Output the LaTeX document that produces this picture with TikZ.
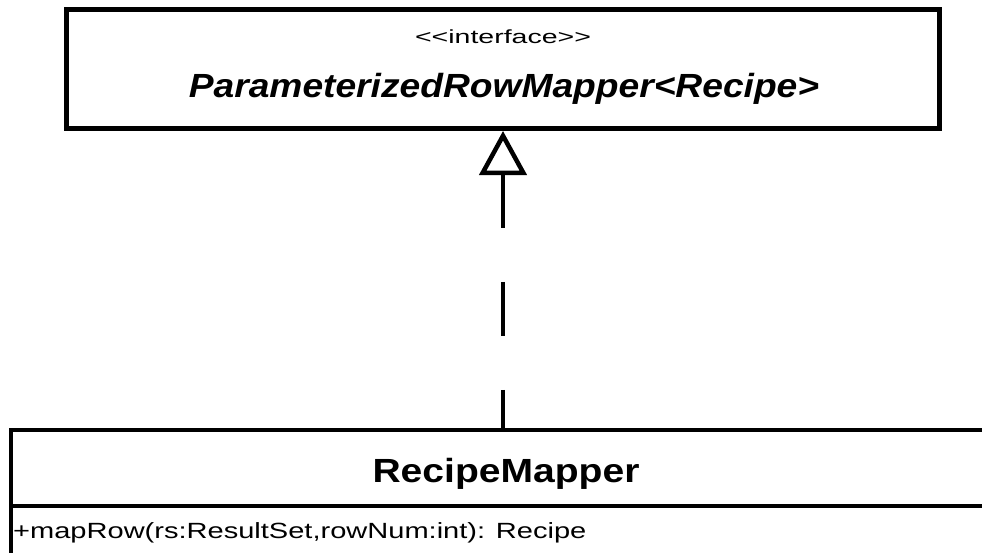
\documentclass[tikz,border=0pt]{standalone}
\usepackage{fontspec}
\setmainfont{Liberation Sans}
\usetikzlibrary{arrows.meta}

\tikzset{
  umlbox/.style={draw=black, fill=white, rectangle, inner sep=0pt},
  realize/.style={draw=black, line width=4.5pt, dash pattern=on 54pt off 54pt,
                  {Triangle[open, length=44pt, width=47pt, line width=4.5pt]}-},
  umltext/.style={anchor=base, inner sep=0pt, text=black}
}

\begin{document}
\begin{tikzpicture}[x=1pt, y=-1pt]
  \useasboundingbox (0,0) rectangle (982,552);
  \fill[white] (0,0) rectangle (982,552);
  \clip (0,0) rectangle (982,552);

  % interface box
  \node[umlbox, line width=5pt, minimum width=873pt, minimum height=119pt]
    (iface) at (503,69) {};
  \node[umltext, font=\fontsize{19}{22}\selectfont] (stereo) at (503,43)
    {\scalebox{1.5}[1]{<\kern0pt<interface>\kern0pt>}};
  \node[umltext, font=\fontsize{33.5}{40}\selectfont\bfseries\itshape] (ifname) at (504,97)
    {\scalebox{1.11}[1]{ParameterizedRowMapper<Recipe>}};

  % implementing class box (runs past the right and bottom edges)
  \node[umlbox, line width=4pt, minimum width=999.5pt, minimum height=170.5pt]
    (mapper) at (510.25,514.75) {};
  \draw[line width=4pt] (10.5,505.5) -- (1010,505.5);
  \node[umltext, font=\fontsize{33.5}{40}\selectfont\bfseries] (clname) at (506,482)
    {\scalebox{1.166}[1]{RecipeMapper}};
  \node[umltext, anchor=base west, font=\fontsize{22}{26}\selectfont] (method) at (13,538)
    {\scalebox{1.32}[1]{+mapRow(rs:ResultSet,rowNum:int): Recipe}};

  % realization connector
  \draw[realize] (iface.south) -- (iface.south |- mapper.north);
\end{tikzpicture}
\end{document}
